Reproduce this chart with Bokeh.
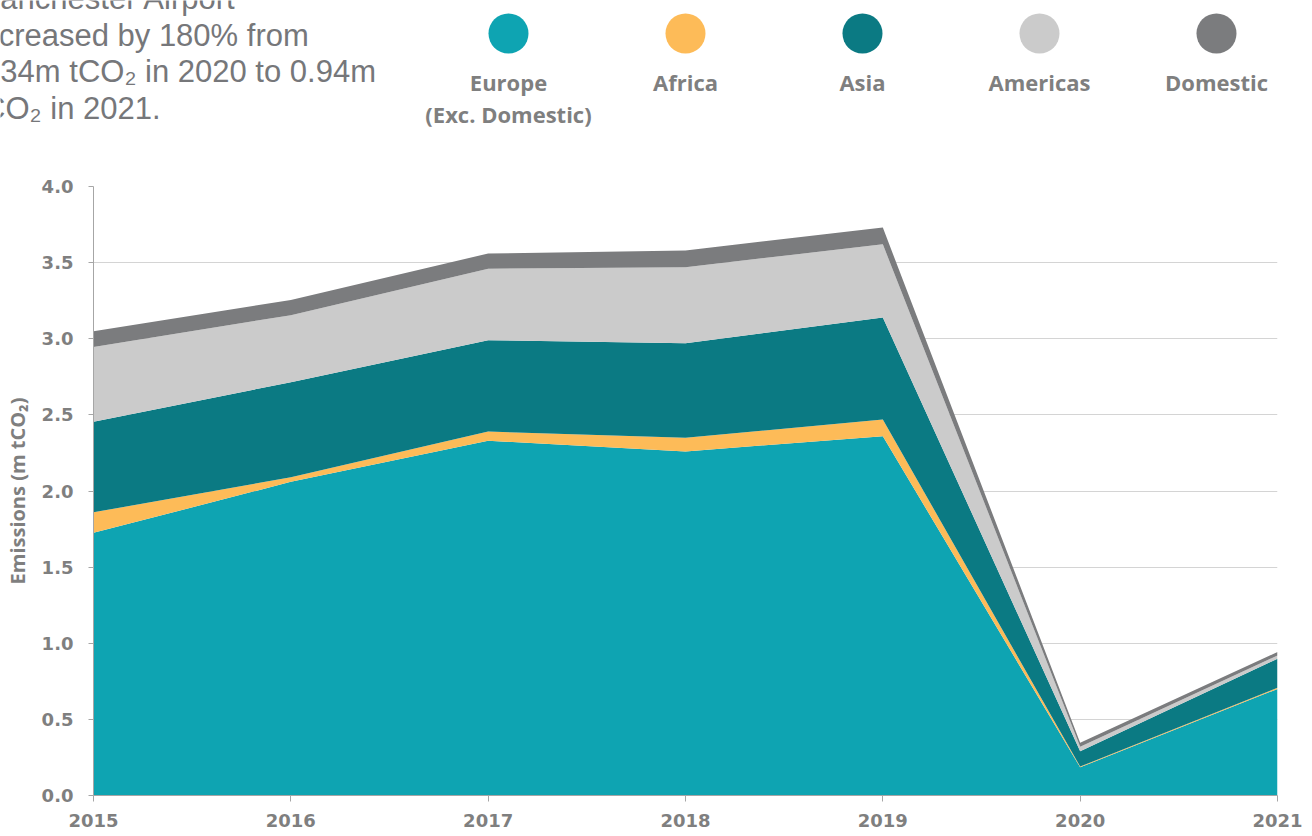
from bokeh.plotting import figure
from bokeh.layouts import column, row
from bokeh.models import ColumnDataSource, FixedTicker, NumeralTickFormatter, Range1d
from bokeh.core.properties import value
from bokeh.embed import file_html
from bokeh.resources import INLINE

# ---------------- data ----------------
years = [2015, 2016, 2017, 2018, 2019, 2020, 2021]
europe = [1.725, 2.06, 2.33, 2.26, 2.36, 0.185, 0.70]
africa = [0.135, 0.03, 0.06, 0.09, 0.11, 0.005, 0.008]
asia = [0.595, 0.625, 0.60, 0.62, 0.67, 0.10, 0.19]
americas = [0.49, 0.44, 0.47, 0.50, 0.48, 0.03, 0.022]
domestic = [0.105, 0.10, 0.10, 0.11, 0.11, 0.027, 0.022]

series_names = ["Europe", "Africa", "Asia", "Americas", "Domestic"]
legend_labels = [["Europe", "(Exc. Domestic)"], ["Africa"], ["Asia"], ["Americas"], ["Domestic"]]
colors = ["#0EA4B2", "#FDBB58", "#0B7A83", "#CBCBCB", "#7B7C7E"]
y_ticks = [0.0, 0.5, 1.0, 1.5, 2.0, 2.5, 3.0, 3.5, 4.0]
title_lines = ["Manchester Airport", "increased by 180% from",
               "0.34m tCO\u2082 in 2020 to 0.94m", "tCO\u2082 in 2021."]
y_label = "Emissions (m tCO\u2082)"

GREY = "#7F7F7F"
W = 1304
BL, BR = 93, 27
HEAD_H = 174
TITLE_W = 420
MAIN_H = 661


def bare(width, x0, x1):
    f = figure(width=width, height=HEAD_H, x_range=Range1d(x0, x1), y_range=Range1d(0, HEAD_H),
               output_backend="svg", toolbar_location=None, x_axis_type=None, y_axis_type=None,
               min_border=0, outline_line_color=None)
    f.grid.visible = False
    return f


# ---------------- header: title text ----------------
tf = bare(TITLE_W, 0, TITLE_W)
tf.text(x=[-26] * len(title_lines), y=[HEAD_H + 2 - 36.5 * i for i in range(len(title_lines))],
        text=title_lines, text_font=value("Liberation Sans"), text_font_size="31px",
        text_color="#76777A", text_baseline="alphabetic", text_align="left")

# ---------------- header: legend ----------------
lf = bare(W - TITLE_W, TITLE_W, W)
lx = [508 + 177 * i for i in range(len(series_names))]
lf.scatter(x=lx, y=[HEAD_H - 33] * len(lx), size=40, marker="circle",
           fill_color=colors, line_color=None)
tx, ty, tt = [], [], []
for i, lines in enumerate(legend_labels):
    for j, s in enumerate(lines):
        tx.append(lx[i])
        ty.append(HEAD_H - 81 - 32 * j)
        tt.append(s)
lf.text(x=tx, y=ty, text=tt, text_font=value("Open Sans"), text_font_style="bold",
        text_font_size="22px", text_color=GREY, text_align="center",
        text_baseline="alphabetic")

# ---------------- main chart ----------------
src = ColumnDataSource(dict(year=years, Europe=europe, Africa=africa, Asia=asia,
                            Americas=americas, Domestic=domestic))

p = figure(width=W, height=MAIN_H, x_range=Range1d(years[0], years[-1]),
           y_range=Range1d(0, 4), output_backend="svg", toolbar_location=None,
           min_border_left=BL, min_border_right=BR, min_border_top=12, min_border_bottom=40)
p.outline_line_color = None
p.varea_stack(stackers=series_names, x="year", color=colors, source=src)

p.xgrid.visible = False
p.ygrid.ticker = FixedTicker(ticks=y_ticks)
p.ygrid.grid_line_color = "#D4D4D4"
p.ygrid.grid_line_width = 1

p.yaxis.ticker = FixedTicker(ticks=y_ticks)
p.yaxis.formatter = NumeralTickFormatter(format="0.0")
p.xaxis.ticker = FixedTicker(ticks=years)

for ax in (p.xaxis[0], p.yaxis[0]):
    ax.axis_line_color = "#A6A6A6"
    ax.major_tick_line_color = "#A6A6A6"
    ax.major_tick_in = 0
    ax.minor_tick_line_color = None
    ax.major_label_text_font = "DejaVu Sans"
    ax.major_label_text_font_style = "bold"
    ax.major_label_text_font_size = "18px"
    ax.major_label_text_color = GREY

p.yaxis.major_tick_out = 5
p.yaxis.major_label_standoff = 15
p.xaxis.major_tick_out = 6
p.xaxis.major_label_standoff = 12

p.yaxis.axis_label = y_label
p.yaxis.axis_label_text_font = "Open Sans"
p.yaxis.axis_label_text_font_style = "bold"
p.yaxis.axis_label_text_font_size = "20px"
p.yaxis.axis_label_text_color = GREY
p.yaxis.axis_label_standoff = 8

layout = column(row(tf, lf, spacing=0), p, spacing=0)
open("out.html", "w").write(file_html(layout, INLINE))
